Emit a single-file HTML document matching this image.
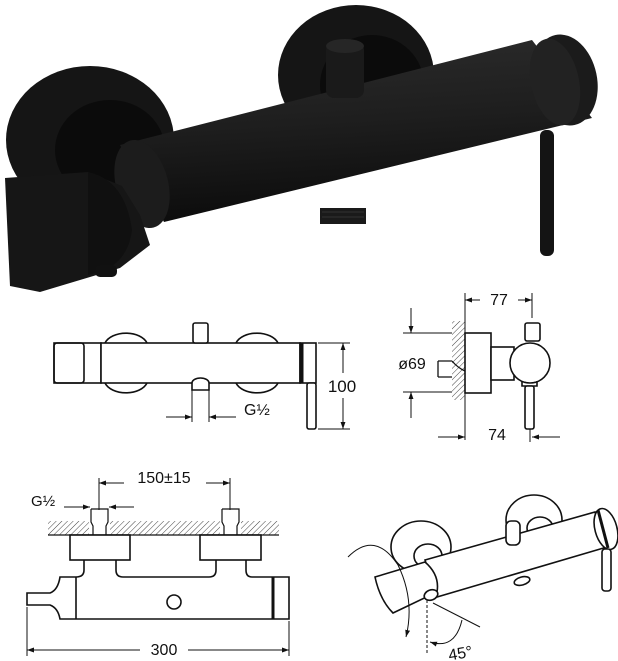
<!DOCTYPE html>
<html><head><meta charset="utf-8"><style>
html,body{margin:0;padding:0;background:#fff;}
svg{display:block;}
text{font-family:"Liberation Sans",sans-serif;fill:#111;}
</style></head><body>
<svg width="618" height="661" viewBox="0 0 618 661" xmlns="http://www.w3.org/2000/svg">
<defs>
<marker id="a" viewBox="0 0 10 10" refX="10" refY="5" markerWidth="7" markerHeight="7" orient="auto-start-reverse"><path d="M0,1.5 L10,5 L0,8.5 z" fill="#111"/></marker>
<linearGradient id="tube" x1="0" y1="0" x2="0.15" y2="1"><stop offset="0" stop-color="#2c2c2c"/><stop offset="0.5" stop-color="#1e1e1e"/><stop offset="1" stop-color="#0c0c0c"/></linearGradient>
<pattern id="h" width="4" height="4" patternUnits="userSpaceOnUse" patternTransform="rotate(45)"><line x1="0" y1="0" x2="0" y2="4" stroke="#444" stroke-width="1"/></pattern>
</defs>

<!-- ===== Top render ===== -->
<g>
<ellipse cx="90" cy="140" rx="84" ry="74" fill="#151515"/>
<ellipse cx="110" cy="150" rx="55" ry="50" fill="#0b0b0b"/>
<ellipse cx="356" cy="75" rx="78" ry="70" fill="#151515"/>
<ellipse cx="372" cy="85" rx="52" ry="50" fill="#0b0b0b"/>
<polygon points="120,145 532,40 592,118 164,222" fill="url(#tube)"/>
<ellipse cx="142" cy="184" rx="26" ry="45" transform="rotate(-15 142 184)" fill="#1c1c1c"/>
<ellipse cx="565" cy="80" rx="32" ry="46" transform="rotate(-12 565 80)" fill="#1b1b1b"/>
<ellipse cx="555" cy="82" rx="24" ry="44" transform="rotate(-12 555 82)" fill="#222"/>
<polygon points="5,178 88,172 122,186 140,215 150,245 120,268 40,292 10,286" fill="#161616"/>
<path d="M88,172 Q125,180 132,230 Q128,262 100,272 L88,275 Z" fill="#101010"/>
<rect x="326" y="42" width="38" height="56" rx="8" fill="#1a1a1a"/>
<ellipse cx="345" cy="46" rx="19" ry="7" fill="#262626"/>
<rect x="320" y="208" width="46" height="16" fill="#1a1a1a"/>
<line x1="322" y1="212" x2="364" y2="212" stroke="#333"/><line x1="322" y1="217" x2="364" y2="217" stroke="#333"/>
<rect x="540" y="130" width="14" height="126" rx="6" fill="#141414"/>
<rect x="95" y="265" width="22" height="12" rx="5" fill="#111"/>
</g>

<!-- ===== Front view ===== -->
<g fill="none" stroke="#111" stroke-width="1.6">
<path d="M105,343 A22,14 0 0 1 147,343"/>
<path d="M105,383 A22,14 0 0 0 147,383"/>
<path d="M236,343 A22,14 0 0 1 278,343"/>
<path d="M236,383 A22,14 0 0 0 278,383"/>
<rect x="54" y="343" width="47" height="40" fill="#fff"/>
<rect x="54" y="343" width="30" height="40" rx="3"/>
<rect x="101" y="343" width="199" height="40" fill="#fff"/>
<rect x="300" y="343" width="16" height="40" fill="#fff"/>
<line x1="302" y1="343" x2="302" y2="383" stroke-width="3"/>
<rect x="193" y="323" width="15" height="20" rx="2" fill="#fff"/>
<path d="M192,390 L192,383 A8.5,5 0 0 1 209,383 L209,390 Z" fill="#fff"/>
<rect x="307" y="383" width="9" height="46" rx="2" fill="#fff"/>
<g stroke-width="1">
<line x1="192" y1="390" x2="192" y2="422"/><line x1="209" y1="390" x2="209" y2="422"/>
<line x1="166" y1="417" x2="192" y2="417" marker-end="url(#a)"/>
<line x1="236" y1="417" x2="209" y2="417" marker-end="url(#a)"/>
<line x1="318" y1="343" x2="350" y2="343"/><line x1="318" y1="429" x2="350" y2="429"/>
<line x1="343" y1="373" x2="343" y2="343" marker-end="url(#a)"/>
<line x1="343" y1="398" x2="343" y2="429" marker-end="url(#a)"/>
</g></g>
<text x="244" y="415" font-size="16">G½</text>
<text x="342" y="392" font-size="17" text-anchor="middle">100</text>

<!-- ===== Side view ===== -->
<g fill="none" stroke="#111" stroke-width="1.6">
<rect x="452" y="321" width="13" height="79" fill="url(#h)" stroke="none"/>
<path d="M438,361 L452,361 M438,377 L452,377 M438,361 L438,377 M452,361 Q458,368 465,371" stroke-width="1.3"/>
<rect x="465" y="333" width="26" height="60" fill="#fff"/>
<rect x="491" y="347" width="23" height="33" fill="#fff"/>
<rect x="525" y="323" width="15" height="18" rx="2" fill="#fff"/>
<circle cx="530" cy="363" r="20" fill="#fff"/>
<path d="M522,381 L522,386 L537,386 L537,381"/>
<rect x="525" y="386" width="9" height="43" rx="2" fill="#fff"/>
<g stroke-width="1">
<line x1="465" y1="293" x2="465" y2="440"/><line x1="532" y1="293" x2="532" y2="318"/>
<line x1="480" y1="300" x2="465" y2="300" marker-end="url(#a)"/>
<line x1="518" y1="300" x2="532" y2="300" marker-end="url(#a)"/>
<line x1="403" y1="333" x2="452" y2="333"/><line x1="403" y1="392" x2="452" y2="392"/>
<line x1="411" y1="308" x2="411" y2="333" marker-end="url(#a)"/>
<line x1="411" y1="418" x2="411" y2="392" marker-end="url(#a)"/>
<line x1="530" y1="429" x2="530" y2="442"/>
<line x1="438" y1="437" x2="465" y2="437" marker-end="url(#a)"/>
<line x1="560" y1="437" x2="532" y2="437" marker-end="url(#a)"/>
</g></g>
<text x="499" y="305" font-size="16" text-anchor="middle">77</text>
<text x="412" y="369" font-size="16" text-anchor="middle">ø69</text>
<text x="497" y="440" font-size="16" text-anchor="middle">74</text>

<!-- ===== Bottom-left top view ===== -->
<g fill="none" stroke="#111" stroke-width="1.6">
<rect x="48" y="521" width="231" height="14" fill="url(#h)" stroke="none"/>
<rect x="89" y="518" width="21" height="17" fill="#fff" stroke="none"/>
<rect x="220" y="518" width="21" height="17" fill="#fff" stroke="none"/>
<line x1="48" y1="535" x2="279" y2="535" stroke-width="1.2"/>
<path d="M91,509 L108,509 L108,522 L106,526 L106,535 M91,509 L91,522 L93,526 L93,535" stroke-width="1.2"/>
<path d="M222,509 L239,509 L239,522 L237,526 L237,535 M222,509 L222,522 L224,526 L224,535" stroke-width="1.2"/>
<rect x="70" y="535" width="60" height="25" fill="#fff"/>
<rect x="200" y="535" width="61" height="25" fill="#fff"/>
<path d="M84,560 L84,570 Q84,577 76,577 L60,577 Q58,590 50,593 L27,593 L27,605 L50,605 Q58,608 60,619 L289,619 L289,577 L252,577 Q246,577 246,570 L246,560 M216,560 L216,570 Q216,577 209,577 L123,577 Q116,577 116,570 L116,560"/>
<line x1="76" y1="577" x2="76" y2="619"/>
<line x1="273" y1="577" x2="273" y2="619" stroke-width="3"/>
<circle cx="174" cy="602" r="7"/>
<g stroke-width="1">
<line x1="99" y1="478" x2="99" y2="510"/><line x1="230" y1="478" x2="230" y2="510"/>
<line x1="124" y1="483" x2="99" y2="483" marker-end="url(#a)"/>
<line x1="206" y1="483" x2="230" y2="483" marker-end="url(#a)"/>
<line x1="64" y1="507" x2="90" y2="507" marker-end="url(#a)"/>
<line x1="134" y1="507" x2="109" y2="507" marker-end="url(#a)"/>
<line x1="27" y1="607" x2="27" y2="656"/><line x1="289" y1="621" x2="289" y2="656"/>
<line x1="140" y1="650" x2="27" y2="650" marker-end="url(#a)"/>
<line x1="188" y1="650" x2="289" y2="650" marker-end="url(#a)"/>
</g></g>
<text x="164" y="483" font-size="16" text-anchor="middle">150±15</text>
<text x="31" y="506" font-size="15">G½</text>
<text x="164" y="655" font-size="16" text-anchor="middle">300</text>

<!-- ===== Iso line drawing ===== -->
<g fill="#fff" stroke="#111" stroke-width="1.6">
<ellipse cx="421" cy="547" rx="30" ry="26"/>
<ellipse cx="428" cy="556" rx="14" ry="12"/>
<ellipse cx="534" cy="520" rx="28" ry="25"/>
<ellipse cx="540" cy="528" rx="13" ry="11"/>
<polygon points="425,560 595,512 607,547 437,597"/>
<rect x="506" y="521" width="14" height="24" rx="5"/>
<ellipse cx="522" cy="581" rx="8" ry="4" transform="rotate(-15 522 581)"/>
<ellipse cx="606" cy="529" rx="11" ry="21" transform="rotate(-15 606 529)"/>
<line x1="598" y1="510" x2="608" y2="548" stroke-width="3"/>
<rect x="602" y="549" width="9" height="42" rx="3"/>
<path d="M375,577 L425,562 Q440,575 437,592 L393,613 Q380,600 375,577 Z"/>
<ellipse cx="431" cy="595" rx="7" ry="5" transform="rotate(-20 431 595)"/>
</g>
<g fill="none" stroke="#111" stroke-width="1">
<path d="M348,557 Q375,530 398,565 Q415,600 406,637" marker-end="url(#a)"/>
<line x1="427" y1="600" x2="427" y2="655" stroke-dasharray="3,2"/>
<line x1="433" y1="603" x2="480" y2="627"/>
<path d="M430,642 Q455,650 462,620" marker-start="url(#a)"/>
</g>
<text x="448" y="659" font-size="16" transform="rotate(-10 458 652)">45°</text>
</svg>
</body></html>
